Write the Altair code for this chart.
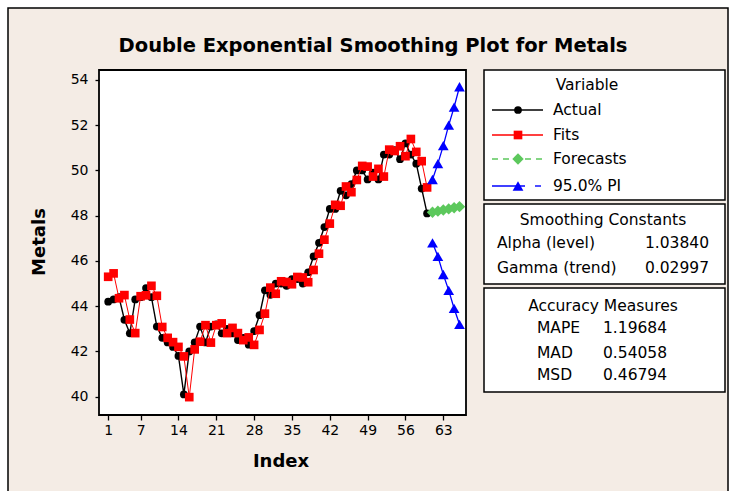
import altair as alt
import pandas as pd

# ---------------- data ----------------
index_obs = list(range(1, 61))
actual = [44.2, 44.3, 44.4, 43.4, 42.8, 44.3, 44.4, 44.8, 44.4, 43.1,
          42.6, 42.4, 42.2, 41.8, 40.1, 42.0, 42.4, 43.1, 42.4, 43.1,
          43.2, 42.8, 43.0, 42.8, 42.5, 42.6, 42.3, 42.9, 43.6, 44.7,
          44.5, 45.0, 45.0, 44.9, 45.2, 45.2, 45.0, 45.5, 46.2, 46.8,
          47.5, 48.3, 48.3, 49.1, 48.9, 49.4, 50.0, 50.0, 49.6, 49.9,
          49.6, 50.7, 50.7, 50.9, 50.5, 51.2, 50.7, 50.3, 49.2, 48.1]
fits = [45.30, 45.45, 44.35, 44.49, 43.41, 42.81, 44.44, 44.48, 44.90, 44.46,
        43.08, 42.60, 42.41, 42.20, 41.78, 39.98, 42.09, 42.43, 43.16, 42.39,
        43.16, 43.24, 42.81, 43.04, 42.81, 42.50, 42.62, 42.29, 42.95, 43.67,
        44.82, 44.55, 45.10, 45.07, 44.97, 45.29, 45.27, 45.06, 45.60, 46.32,
        46.94, 47.65, 48.48, 48.44, 49.29, 49.04, 49.58, 50.20, 50.17, 49.73,
        50.07, 49.73, 50.92, 50.86, 51.07, 50.63, 51.39, 50.82, 50.41, 49.25]
index_fc = [61, 62, 63, 64, 65, 66]
forecasts = [48.15, 48.20, 48.25, 48.30, 48.35, 48.40]
pi_upper = [49.6, 50.3, 51.1, 52.0, 52.8, 53.7]
pi_lower = [46.8, 46.2, 45.4, 44.7, 43.9, 43.2]

x_ticks = [1, 7, 14, 21, 28, 35, 42, 49, 56, 63]
y_ticks = [40, 42, 44, 46, 48, 50, 52, 54]

title_text = "Double Exponential Smoothing Plot for Metals"
legend_items = ["Actual", "Fits", "Forecasts", "95.0% PI"]
const_names = ["Alpha (level)", "Gamma (trend)"]
const_values = ["1.03840", "0.02997"]
acc_names = ["MAPE", "MAD", "MSD"]
acc_values = ["1.19684", "0.54058", "0.46794"]

# ---------------- style ----------------
FONT = "DejaVu Sans"
BEIGE = "#F4ECE5"
GREEN = "#5CC85C"
W, H = 367, 345
S_CIRC, S_SQ, S_DIA, S_TRI = 60, 75, 130, 115

df_act = pd.DataFrame({"Index": index_obs, "Value": actual})
df_fit = pd.DataFrame({"Index": index_obs, "Value": fits})
df_fc = pd.DataFrame({"Index": index_fc, "Value": forecasts})
df_up = pd.DataFrame({"Index": index_fc, "Value": pi_upper})
df_lo = pd.DataFrame({"Index": index_fc, "Value": pi_lower})
one = pd.DataFrame({"d": [0]})

xs = alt.Scale(domain=[-0.7, 67.2], nice=False, zero=False)
ys = alt.Scale(domain=[39.19, 54.44], nice=False, zero=False)
xaxis = alt.Axis(values=x_ticks, title=None, domain=False, grid=False,
                 tickSize=5, tickColor="black", tickWidth=1.3,
                 labelFont=FONT, labelFontSize=14, labelColor="black",
                 labelPadding=3, zindex=1, labelFlush=False)
yaxis = alt.Axis(values=y_ticks, title=None, domain=False, grid=False,
                 tickSize=4, tickColor="black", tickWidth=1.3,
                 labelFont=FONT, labelFontSize=14, labelColor="black",
                 labelPadding=7, zindex=1, format="d")
X = alt.X("Index:Q", scale=xs, axis=xaxis)
Y = alt.Y("Value:Q", scale=ys, axis=yaxis)


def rect(x1, x2, y1, y2, fill="white", sw=1.5):
    return alt.Chart(one).mark_rect(fill=fill, stroke="black", strokeWidth=sw).encode(
        x=alt.value(x1), x2=alt.value(x2), y=alt.value(y1), y2=alt.value(y2))


def txt(s, x, y, align="left", size=15.5, weight="normal", angle=0):
    return alt.Chart(one).mark_text(text=s, align=align, baseline="middle", font=FONT,
                                    fontSize=size, fontWeight=weight, color="black",
                                    angle=angle).encode(x=alt.value(x), y=alt.value(y))


def hline(x1, x2, y, color, dash=None, sw=1.4):
    kw = dict(color=color, strokeWidth=sw)
    if dash:
        kw["strokeDash"] = dash
    return alt.Chart(one).mark_rule(**kw).encode(x=alt.value(x1), x2=alt.value(x2), y=alt.value(y))


def pt(x, y, shape, color, size):
    return alt.Chart(one).mark_point(shape=shape, filled=True, color=color, size=size, opacity=1).encode(
        x=alt.value(x), y=alt.value(y))


layers = []
# frame + plot area
layers.append(rect(-91, 629, -62, 440, fill=BEIGE, sw=1.5))
layers.append(rect(0, W, 0, H, fill="white", sw=1.8))

# data
layers.append(alt.Chart(df_act).mark_line(color="black", strokeWidth=1.4, clip=True).encode(x=X, y=Y))
layers.append(alt.Chart(df_act).mark_point(shape="circle", filled=True, color="black", size=S_CIRC,
                                           opacity=1, clip=True).encode(x=X, y=Y))
layers.append(alt.Chart(df_fit).mark_line(color="red", strokeWidth=1, clip=True).encode(x=X, y=Y))
layers.append(alt.Chart(df_fit).mark_point(shape="square", filled=True, color="red", size=S_SQ,
                                           opacity=1, clip=True).encode(x=X, y=Y))
layers.append(alt.Chart(df_fc).mark_line(color=GREEN, strokeWidth=1.3, strokeDash=[4, 3], clip=True).encode(x=X, y=Y))
layers.append(alt.Chart(df_fc).mark_point(shape="diamond", filled=True, color=GREEN, size=S_DIA,
                                          opacity=1, clip=True).encode(x=X, y=Y))
for d in (df_up, df_lo):
    layers.append(alt.Chart(d).mark_line(color="blue", strokeWidth=1.3, clip=True).encode(x=X, y=Y))
    layers.append(alt.Chart(d).mark_point(shape="triangle-up", filled=True, color="blue", size=S_TRI,
                                          opacity=1, clip=True).encode(x=X, y=Y))

# title and axis titles
layers.append(txt(title_text, 274, -24, align="center", size=19.5, weight="bold"))
layers.append(txt("Metals", -59, 172, align="center", size=18, weight="bold", angle=270))
layers.append(txt("Index", 182, 392, align="center", size=18, weight="bold"))

# legend box 1
LX1, LX2 = 385, 626
layers.append(rect(LX1, LX2, 0, 130))
layers.append(txt("Variable", 488, 15, align="center"))
rows_y = [40, 65, 89, 116]
layers.append(hline(393, 444, rows_y[0], "black"))
layers.append(pt(419, rows_y[0], "circle", "black", S_CIRC))
layers.append(hline(393, 444, rows_y[1], "red"))
layers.append(pt(419, rows_y[1], "square", "red", S_SQ))
layers.append(hline(393, 444, rows_y[2], GREEN, dash=[6, 5]))
layers.append(pt(419, rows_y[2], "diamond", GREEN, S_DIA))
layers.append(hline(393, 426, rows_y[3], "blue"))
layers.append(hline(436, 442, rows_y[3], "blue"))
layers.append(pt(419, rows_y[3], "triangle-up", "blue", S_TRI))
for name, yy in zip(legend_items, rows_y):
    layers.append(txt(name, 454, yy))

# box 2
layers.append(rect(LX1, LX2, 134, 214))
layers.append(txt("Smoothing Constants", 504, 150, align="center"))
for name, val, yy in zip(const_names, const_values, [173, 198]):
    layers.append(txt(name, 398, yy))
    layers.append(txt(val, 610, yy, align="right"))

# box 3
layers.append(rect(LX1, LX2, 218, 322))
layers.append(txt("Accuracy Measures", 504, 236, align="center"))
for name, val, yy in zip(acc_names, acc_values, [258, 283, 305]):
    layers.append(txt(name, 438, yy))
    layers.append(txt(val, 504, yy))

chart = alt.layer(*layers).properties(
    width=W, height=H,
    padding={"left": 99, "top": 70, "right": 266, "bottom": 76},
    autosize="none",
    background="white",
).configure_view(stroke=None)

chart.save("out.html", embed_options={"renderer": "svg", "actions": False})
